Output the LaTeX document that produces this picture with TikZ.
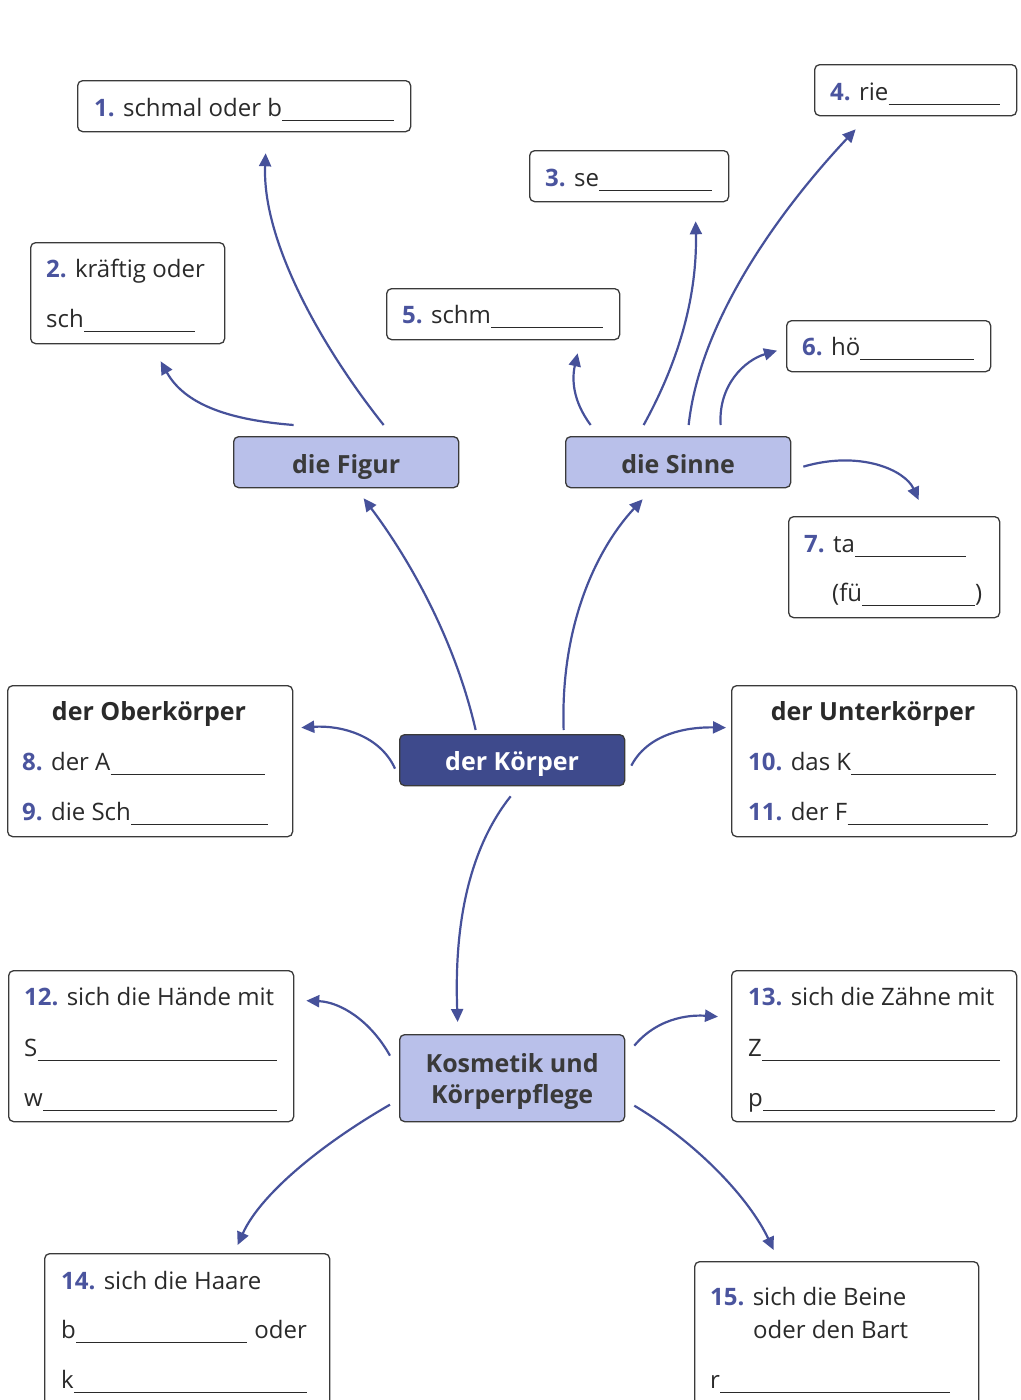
\documentclass[tikz,border=0pt]{standalone}
\usepackage{fontspec}
\setmainfont{Open Sans}
\usetikzlibrary{arrows.meta}
\definecolor{arrowblue}{HTML}{46519A}
\definecolor{numblue}{HTML}{4A549E}
\definecolor{lightfill}{HTML}{B9C0EA}
\definecolor{darkfill}{HTML}{3E4A8C}
\definecolor{boxgray}{HTML}{3A3A3A}
\definecolor{textgray}{HTML}{2A2A2A}
\newcommand\num[1]{\textcolor{numblue}{\textbf{#1}}}
\begin{document}
\begin{tikzpicture}[x=1pt,y=-1pt,
  box/.style={draw=boxgray, line width=1.3pt, rounded corners=5pt, fill=white, anchor=north west, inner sep=0},
  topic/.style={draw=boxgray, line width=1.3pt, rounded corners=5pt, fill=lightfill, anchor=north west, inner sep=0,
    font=\fontsize{25}{30}\selectfont\bfseries, text=boxgray, align=center},
  main/.style={topic, fill=darkfill, text=white},
  txt/.style={anchor=base west, inner sep=0, font=\fontsize{24}{28}\selectfont, text=textgray},
  head/.style={anchor=base, inner sep=0, font=\fontsize{25}{28}\selectfont\bfseries, text=textgray},
  ul/.style={draw=textgray, line width=1pt},
  arr/.style={draw=arrowblue, line width=2.2pt, -{Triangle[length=13pt,width=12pt]}}]
\useasboundingbox (0,0) rectangle (1020,1400);
\clip (0,0) rectangle (1020,1400);

% topic nodes
\node[topic, text height=22pt, text depth=0pt, minimum width=225, minimum height=51] (fig) at (233,436) {die Figur};
\node[topic, text height=22pt, text depth=0pt, minimum width=225, minimum height=51] (sin) at (565,436) {die Sinne};
\node[main, text height=21pt, text depth=0pt, minimum width=225, minimum height=51] (kor) at (399,734) {der Körper};
\node[topic, minimum width=225, minimum height=87] (kos) at (399,1034) {\rule{0pt}{26pt}Kosmetik und\\[1pt]Körperpflege};

% answer boxes
\node[box, minimum width=333, minimum height=51] (b1) at (77,80) {};
\node[box, minimum width=194, minimum height=101] (b2) at (30,242) {};
\node[box, minimum width=199, minimum height=51] (b3) at (529,150) {};
\node[box, minimum width=202, minimum height=51] (b4) at (814,64) {};
\node[box, minimum width=233, minimum height=51] (b5) at (386,288) {};
\node[box, minimum width=204, minimum height=51] (b6) at (786,320) {};
\node[box, minimum width=211, minimum height=101] (b7) at (788,516) {};
\node[box, minimum width=285, minimum height=151] (ob) at (7,685) {};
\node[box, minimum width=285, minimum height=151] (un) at (731,685) {};
\node[box, minimum width=285, minimum height=151] (b12) at (8,970) {};
\node[box, minimum width=285, minimum height=151] (b13) at (731,970) {};
\node[box, minimum width=285, minimum height=170] (b14) at (44,1253) {};
\node[box, minimum width=284, minimum height=160] (b15) at (694,1261) {};

% texts
\node[txt] (t1) at (94,116) {\num{1.} schmal oder b};
\draw[ul] (t1.base east) ++(0,4) -- (394,120);
\node[txt] (t2a) at (46,277) {\num{2.} kräftig oder};
\node[txt] (t2b) at (46,327) {sch};
\draw[ul] (t2b.base east) ++(0,4) -- (195,331);
\node[txt] (t3) at (545,186) {\num{3.} se};
\draw[ul] (t3.base east) ++(0,4) -- (712,190);
\node[txt] (t4) at (830,100) {\num{4.} rie};
\draw[ul] (t4.base east) ++(0,4) -- (1000,104);
\node[txt] (t5) at (402,323) {\num{5.} schm};
\draw[ul] (t5.base east) ++(0,4) -- (603,327);
\node[txt] (t6) at (802,355) {\num{6.} hö};
\draw[ul] (t6.base east) ++(0,4) -- (974,359);
\node[txt] (t7a) at (804,552) {\num{7.} ta};
\draw[ul] (t7a.base east) ++(0,4) -- (966,556);
\node[txt] (t7b) at (832,601) {(fü};
\draw[ul] (t7b.base east) ++(0,4) -- (975,605);
\node[txt] (t7c) at (975,601) {)};

\node[head] (h8) at (149,720) {der Oberkörper};
\node[txt] (t8) at (22,770) {\num{8.} der A};
\draw[ul] (t8.base east) ++(0,4) -- (265,774);
\node[txt] (t9) at (22,820) {\num{9.} die Sch};
\draw[ul] (t9.base east) ++(0,4) -- (268,824);

\node[head] (h10) at (873,720) {der Unterkörper};
\node[txt] (t10) at (748,770) {\num{10.} das K};
\draw[ul] (t10.base east) ++(0,4) -- (996,774);
\node[txt] (t11) at (748,820) {\num{11.} der F};
\draw[ul] (t11.base east) ++(0,4) -- (988,824);

\node[txt] (t12a) at (24,1005) {\num{12.} sich die Hände mit};
\node[txt] (t12b) at (24,1056) {S};
\draw[ul] (t12b.base east) ++(0,4) -- (277,1060);
\node[txt] (t12c) at (24,1106) {w};
\draw[ul] (t12c.base east) ++(0,4) -- (277,1110);

\node[txt] (t13a) at (748,1005) {\num{13.} sich die Zähne mit};
\node[txt] (t13b) at (748,1056) {Z};
\draw[ul] (t13b.base east) ++(0,4) -- (1000,1060);
\node[txt] (t13c) at (748,1106) {p};
\draw[ul] (t13c.base east) ++(0,4) -- (995,1110);

\node[txt] (t14a) at (61,1289) {\num{14.} sich die Haare};
\node[txt] (t14b) at (61,1338) {b};
\node[txt, anchor=base east] (t14c) at (307,1338) {oder};
\draw[ul] (t14b.base east) ++(0,4) -- (247,1342);
\node[txt] (t14d) at (61,1388) {k};
\draw[ul] (t14d.base east) ++(0,4) -- (307,1392);

\node[txt] (t15a) at (710,1305) {\num{15.} sich die Beine};
\node[txt] (t15b) at (753,1338) {oder den Bart};
\node[txt] (t15c) at (710,1388) {r};
\draw[ul] (t15c.base east) ++(0,4) -- (950,1392);

% connectors
\draw[arr] ([xshift=37.5pt,yshift=11pt]fig.north) .. controls (320,345) and (262,240) .. ([xshift=21.5pt,yshift=-21pt]b1.south);
\draw[arr] ([xshift=-52.5pt,yshift=11pt]fig.north) .. controls (230,420) and (185,405) .. ([xshift=33pt,yshift=-17pt]b2.south);
\draw[arr] ([xshift=-87.5pt,yshift=11pt]sin.north) .. controls (572,400) and (572,378) .. ([xshift=74.5pt,yshift=-13pt]b5.south);
\draw[arr] ([xshift=-34.5pt,yshift=11pt]sin.north) .. controls (685,350) and (697,285) .. ([xshift=66.5pt,yshift=-19pt]b3.south);
\draw[arr] ([xshift=10.5pt,yshift=11pt]sin.north) .. controls (700,320) and (780,210) .. ([xshift=-60pt,yshift=-13pt]b4.south);
\draw[arr] ([xshift=42.5pt,yshift=11pt]sin.north) .. controls (718,385) and (745,360) .. ([xshift=-9pt,yshift=-4.5pt]b6.west);
\draw[arr] ([xshift=12pt,yshift=-4.5pt]sin.east) .. controls (860,450) and (905,470) .. ([xshift=24.5pt,yshift=16pt]b7.north);
\draw[arr] ([xshift=-36.5pt,yshift=4pt]kor.north) .. controls (455,640) and (410,560) .. ([xshift=17.5pt,yshift=-10pt]fig.south);
\draw[arr] ([xshift=51.5pt,yshift=4pt]kor.north) .. controls (560,620) and (600,545) .. ([xshift=-35.5pt,yshift=-11pt]sin.south);
\draw[arr] ([xshift=-4pt,yshift=-8.5pt]kor.west) .. controls (380,735) and (340,725) .. ([xshift=8pt,yshift=33.5pt]ob.east);
\draw[arr] ([xshift=6pt,yshift=-5.5pt]kor.east) .. controls (650,730) and (695,727) .. ([xshift=-5pt,yshift=33.5pt]un.west);
\draw[arr] ([xshift=-1.5pt,yshift=-10pt]kor.south) .. controls (460,860) and (455,950) .. ([xshift=-54.5pt,yshift=12pt]kos.north);
\draw[arr] ([xshift=-9pt,yshift=22.5pt]kos.west) .. controls (370,1020) and (340,1002) .. ([xshift=12pt,yshift=45.5pt]b12.east);
\draw[arr] ([xshift=9pt,yshift=32.5pt]kos.east) .. controls (660,1015) and (695,1015) .. ([xshift=-13pt,yshift=29.5pt]b13.west);
\draw[arr] ([xshift=-9pt,yshift=-26.5pt]kos.west) .. controls (320,1145) and (260,1195) .. ([xshift=50.5pt,yshift=8pt]b14.north);
\draw[arr] ([xshift=9pt,yshift=-27.5pt]kos.east) .. controls (700,1145) and (750,1200) .. ([xshift=-63pt,yshift=11pt]b15.north);
\end{tikzpicture}
\end{document}
